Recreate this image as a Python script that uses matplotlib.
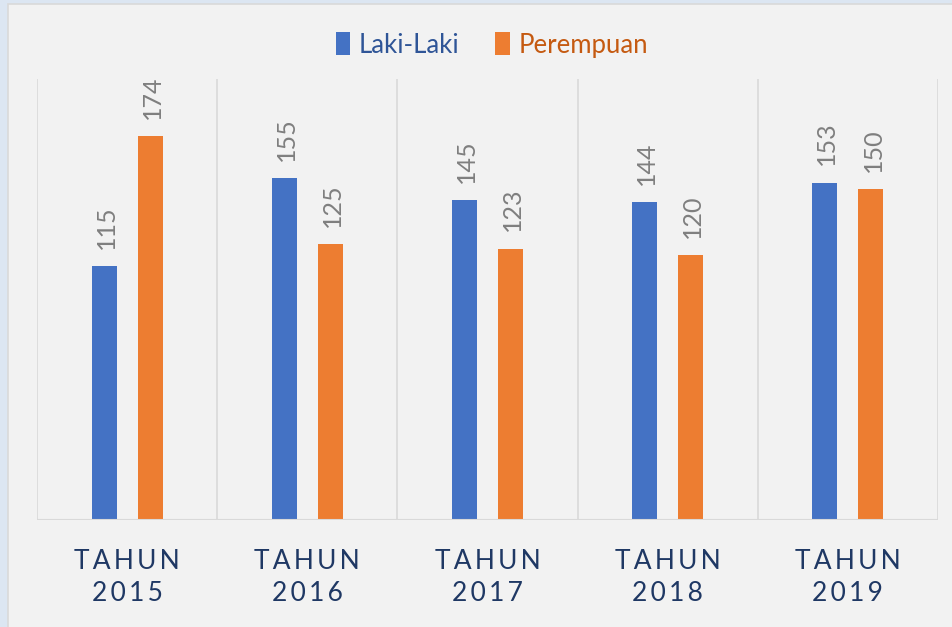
import matplotlib as mpl
mpl.use('Agg')
import numpy as np
import matplotlib.pyplot as plt
from matplotlib.patches import Rectangle, Patch

# data
years = ['2015', '2016', '2017', '2018', '2019']
laki = [115, 155, 145, 144, 153]
perempuan = [174, 125, 123, 120, 150]
series_names = ['Laki-Laki', 'Perempuan']

blue = '#4472C4'
orange = '#ED7D31'
grid_col = '#D9D9D9'
navy = '#1F3864'
label_gray = '#7F7F7F'

plt.rcParams['font.family'] = ['Lato', 'DejaVu Sans']

W, H = 953, 627
fig = plt.figure(figsize=(W / 100, H / 100), dpi=100)
fig.patch.set_facecolor('#DCE6F2')
# inner chart area
fig.patches.append(Rectangle((8 / W, -0.01), 1.0, 1 - 4 / H + 0.01,
                             transform=fig.transFigure, facecolor='#F2F2F2',
                             edgecolor=grid_col, linewidth=1.2, zorder=-10))

left, right, top, bottom = 37, 938, 79, 520
ax = fig.add_axes([left / W, 1 - bottom / H, (right - left) / W, (bottom - top) / H])
ax.set_facecolor('none')

x = np.arange(len(years))
bw = 0.139
off = 0.128
b1 = ax.bar(x - off, laki, bw, color=blue, zorder=3)
b2 = ax.bar(x + off, perempuan, bw, color=orange, zorder=3)

for bars, vals in ((b1, laki), (b2, perempuan)):
    for rect, v in zip(bars, vals):
        ax.annotate(str(v), (rect.get_x() + rect.get_width() / 2, v),
                    xytext=(1.5, 12.5), textcoords='offset points',
                    rotation=90, ha='center', va='bottom',
                    fontsize=18, color=label_gray)

ax.set_xlim(-0.5, len(years) - 0.5)
ax.set_ylim(0, 200)

# category separators
for b in np.arange(-0.5, len(years), 1.0):
    ax.axvline(b, color=grid_col, linewidth=1.2, zorder=1)
ax.axhline(0, color=grid_col, linewidth=1.5, zorder=4)

for s in ax.spines.values():
    s.set_visible(False)
ax.set_yticks([])
ax.set_xticks(x)
sp = '\u2009'
ticklabels = [sp.join('TAHUN') + '\n' + sp.join(y) for y in years]
ax.set_xticklabels(ticklabels, fontsize=19, color=navy, linespacing=1.35)
ax.tick_params(axis='x', length=0, pad=21)

handles = [Patch(facecolor=blue), Patch(facecolor=orange)]
leg = fig.legend(handles, series_names, loc='center', bbox_to_anchor=(492 / W, 1 - 45 / H),
                 ncol=2, frameon=False, fontsize=18.5, handlelength=0.55, handleheight=1.0,
                 handletextpad=0.35, columnspacing=1.4)
for t, c in zip(leg.get_texts(), ['#2F5597', '#C55A11']):
    t.set_color(c)

plt.savefig('out.png', dpi=100, facecolor=fig.get_facecolor())
